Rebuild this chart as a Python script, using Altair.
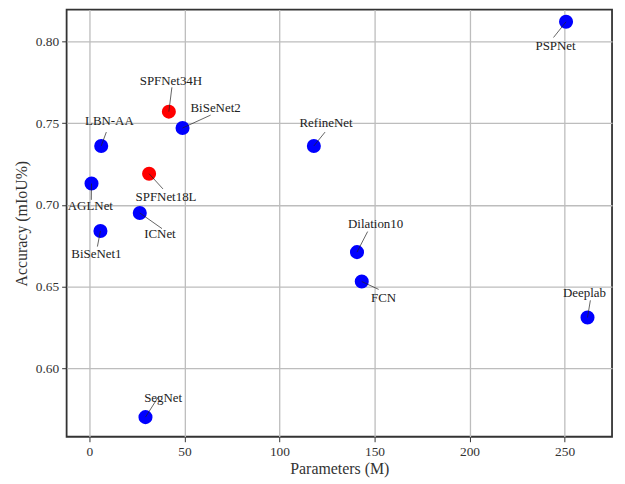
import altair as alt
import pandas as pd

names = ["PSPNet", "SPFNet34H", "BiSeNet2", "LBN-AA", "RefineNet", "AGLNet", "SPFNet18L",
         "ICNet", "BiSeNet1", "Dilation10", "FCN", "Deeplab", "SegNet"]
params = [250.8, 41.8, 49.0, 6.2, 118.1, 1.1, 31.4, 26.5, 5.8, 140.8, 143.3, 262.1, 29.5]
acc = [0.812, 0.757, 0.747, 0.736, 0.736, 0.713, 0.719, 0.695, 0.684, 0.671, 0.653, 0.631, 0.570]
group = ["other", "ours", "other", "other", "other", "other", "ours",
         "other", "other", "other", "other", "other", "other"]

# annotation label anchors (data coordinates)
label_x = [245.3, 42.9, 66.4, 10.5, 124.5, 0.5, 40.3, 37.1, 3.7, 150.6, 154.8, 260.5, 38.8]
label_y = [0.797, 0.776, 0.759, 0.751, 0.750, 0.699, 0.705, 0.682, 0.670, 0.688, 0.643, 0.646, 0.582]
# leader line ends (data coordinates)
line_x = [244.2, 43.4, 63.8, 8.9, 124.0, 1.0, 38.7, 38.2, 4.2, 146.4, 152.2, 263.6, 36.6]
line_y = [0.8024, 0.7719, 0.7549, 0.7445, 0.7445, 0.7030, 0.7097, 0.6854, 0.6744, 0.6836, 0.6482, 0.6415, 0.5830]

df = pd.DataFrame({"name": names, "params": params, "acc": acc, "group": group,
                   "lx": label_x, "ly": label_y, "ex": line_x, "ey": line_y})

FONT = "Liberation Serif"
xs = alt.Scale(domain=[-12, 275], nice=False, zero=False)
ys = alt.Scale(domain=[0.558, 0.8195], nice=False, zero=False)

base = alt.Chart(df)

points = base.mark_circle(size=200, opacity=1).encode(
    x=alt.X("params:Q", scale=xs,
            axis=alt.Axis(title="Parameters (M)", values=[0, 50, 100, 150, 200, 250])),
    y=alt.Y("acc:Q", scale=ys,
            axis=alt.Axis(title="Accuracy (mIoU%)", values=[0.60, 0.65, 0.70, 0.75, 0.80], format=".2f")),
    color=alt.Color("group:N", scale=alt.Scale(domain=["other", "ours"], range=["#0000ff", "#ff0000"]),
                    legend=None),
)

lines = base.mark_rule(color="#222222", strokeWidth=0.7).encode(
    x=alt.X("params:Q", scale=xs),
    y=alt.Y("acc:Q", scale=ys),
    x2="ex:Q",
    y2="ey:Q",
)

labels = base.mark_text(font=FONT, fontSize=13, color="#222222", baseline="middle", align="center").encode(
    x=alt.X("lx:Q", scale=xs),
    y=alt.Y("ly:Q", scale=ys),
    text="name:N",
)

chart = alt.layer(points, lines, labels).properties(
    width=549, height=430,
    autosize=alt.AutoSizeParams(type="none"),
    padding={"left": 59, "top": 0, "right": 5, "bottom": 46},
).configure_view(
    stroke="#333333", strokeWidth=1.8
).configure_axis(
    grid=True, gridColor="#bdbdbd", gridWidth=1.3,
    domain=False, tickColor="#333333", tickSize=5, tickWidth=1,
    labelFont=FONT, labelFontSize=13.5, labelColor="#333333", labelPadding=3,
    titleFont=FONT, titleFontSize=16, titleFontWeight="normal", titleColor="#333333",
).configure_axisY(titlePadding=6).configure_axisX(titlePadding=2)

chart.save("out.html", embed_options={"renderer": "svg", "actions": False})
